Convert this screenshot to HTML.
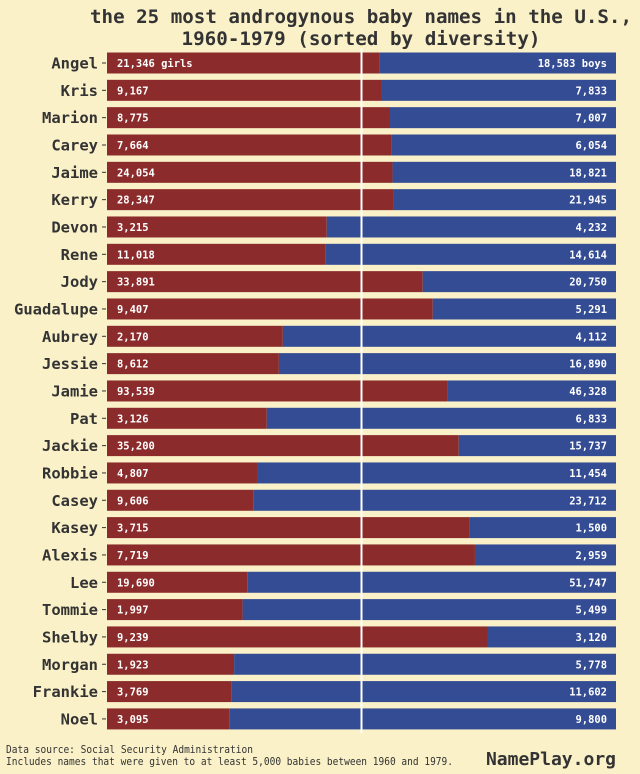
<!DOCTYPE html>
<html><head><meta charset="utf-8"><style>
body{margin:0;background:#faf1c8;}
svg{display:block;font-family:"DejaVu Sans Mono","Liberation Mono",monospace;}
</style></head><body>
<svg id="chart" width="640" height="774" viewBox="0 0 640 774">
<rect width="640" height="774" fill="#faf1c8"/>
<text x="361" y="23" text-anchor="middle" font-size="19" font-weight="bold" fill="#333" textLength="542" lengthAdjust="spacingAndGlyphs">the 25 most androgynous baby names in the U.S.,</text>
<text x="361" y="45" text-anchor="middle" font-size="19" font-weight="bold" fill="#333" textLength="359" lengthAdjust="spacingAndGlyphs">1960-1979 (sorted by diversity)</text>
<g id="bars"></g>
<text x="6" y="753" font-size="10.5" fill="#333" textLength="247" lengthAdjust="spacingAndGlyphs">Data source: Social Security Administration</text>
<text x="6" y="765" font-size="10.5" fill="#333" textLength="447" lengthAdjust="spacingAndGlyphs">Includes names that were given to at least 5,000 babies between 1960 and 1979.</text>
<text x="616" y="765" text-anchor="end" font-size="18" font-weight="bold" fill="#333">NamePlay.org</text>
</svg>
<script>
const names=["Angel","Kris","Marion","Carey","Jaime","Kerry","Devon","Rene","Jody","Guadalupe","Aubrey","Jessie","Jamie","Pat","Jackie","Robbie","Casey","Kasey","Alexis","Lee","Tommie","Shelby","Morgan","Frankie","Noel"];
const girls=[21346,9167,8775,7664,24054,28347,3215,11018,33891,9407,2170,8612,93539,3126,35200,4807,9606,3715,7719,19690,1997,9239,1923,3769,3095];
const boys=[18583,7833,7007,6054,18821,21945,4232,14614,20750,5291,4112,16890,46328,6833,15737,11454,23712,1500,2959,51747,5499,3120,5778,11602,9800];
const NS="http://www.w3.org/2000/svg";
const g=document.getElementById('bars');
const x0=107,x1=616,y0=63,step=27.33,bh=21;
const xs=f=>x0+f*(x1-x0);
const ys=i=>y0+i*step;
function mk(t,a){const e=document.createElementNS(NS,t);for(const k in a)e.setAttribute(k,a[k]);g.appendChild(e);return e;}
const fmt=n=>n.toLocaleString('en-US');
names.forEach((n,i)=>{
  const f=girls[i]/(girls[i]+boys[i]);const cy=ys(i);
  const r=mk('rect',{x:x0,y:cy-bh/2,width:xs(f)-x0,height:bh,fill:'#8b2b2b'});
  
  
  const b=mk('rect',{x:xs(f),y:cy-bh/2,width:x1-xs(f),height:bh,fill:'#344c93'});
  
  
  const tk=mk('line',{x1:102,x2:106,y1:cy,y2:cy,stroke:'#333','stroke-width':1});
  
  
  const l=mk('text',{x:98,y:cy+5.5,'text-anchor':'end','font-size':15.5,'font-weight':'bold',fill:'#333'});
  l.textContent=n;
  
  
  const gs=fmt(girls[i])+(i===0?' girls':'');
  const gt=mk('text',{x:117,y:cy+4,'font-size':11,'font-weight':'bold',fill:'#fff',textLength:gs.length*6.3,lengthAdjust:'spacingAndGlyphs'});
  gt.textContent=gs;
  
  
  const bs=fmt(boys[i])+(i===0?' boys':'');
  const bt=mk('text',{x:607,y:cy+4,'text-anchor':'end','font-size':11,'font-weight':'bold',fill:'#fff',textLength:bs.length*6.3,lengthAdjust:'spacingAndGlyphs'});
  bt.textContent=bs;
  
  
});
const c=mk('line',{x1:xs(0.5),x2:xs(0.5),y1:48,y2:733,stroke:'#fff','stroke-width':2});


</script>
</body></html>
